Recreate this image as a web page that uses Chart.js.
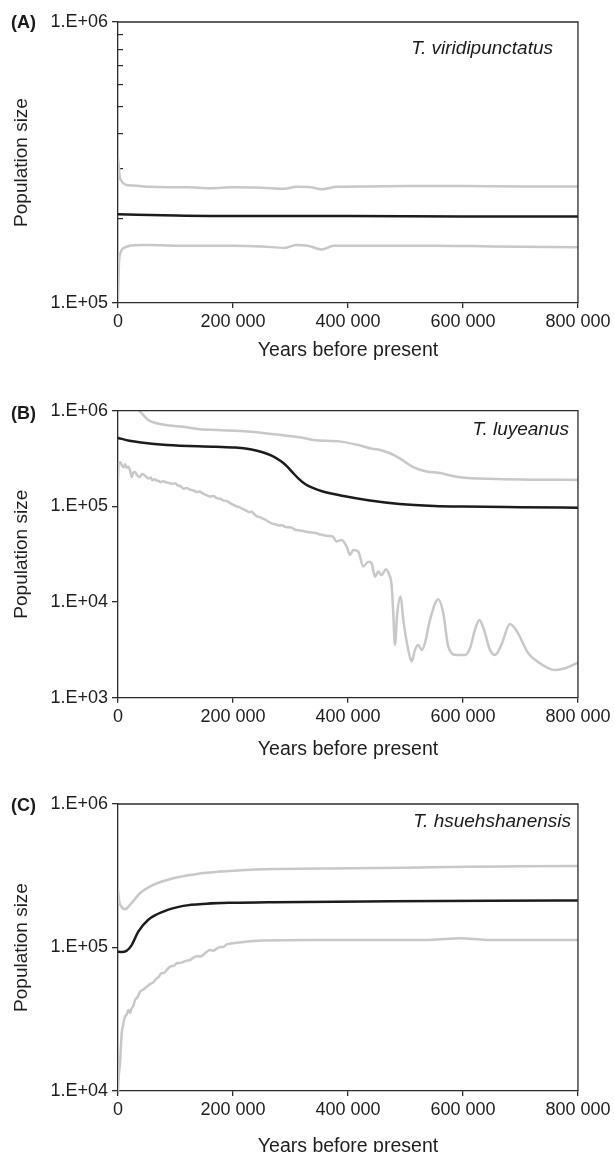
<!DOCTYPE html>
<html><head><meta charset="utf-8">
<script src="https://cdn.jsdelivr.net/npm/chart.js@4.4.1/dist/chart.umd.min.js"></script>
<style>
html,body{margin:0;padding:0;background:#fff;width:614px;height:1152px;overflow:hidden;position:relative;font-family:"Liberation Sans",Arial,sans-serif;}
canvas{position:absolute;left:0;}
.lab{position:absolute;font-size:18px;font-weight:bold;color:#1a1a1a;line-height:20px;white-space:nowrap;}
.sp{position:absolute;font-size:19px;font-style:italic;color:#1a1a1a;line-height:20px;white-space:nowrap;text-align:right;}
</style></head><body>
<canvas id="cA" width="614" height="380" style="top:0px"></canvas>
<canvas id="cB" width="614" height="390" style="top:380px"></canvas>
<canvas id="cC" width="614" height="410" style="top:770px"></canvas>
<div class="lab" style="left:11px;top:12px">(A)</div>
<div class="sp" style="right:61px;top:38px">T. viridipunctatus</div>
<div class="lab" style="left:11px;top:403px">(B)</div>
<div class="sp" style="right:45px;top:419px">T. luyeanus</div>
<div class="lab" style="left:11px;top:795px">(C)</div>
<div class="sp" style="right:43px;top:811px">T. hsuehshanensis</div>
<script>
// ---- tick values / labels ----
const xTicks = [0, 200000, 400000, 600000, 800000];
const xTickLabels = ['0', '200 000', '400 000', '600 000', '800 000'];
const yTicksA = [1e5, 1e6];
const yTickLabelsA = ['1.E+05', '1.E+06'];
const yMinorA = [2e5, 3e5, 4e5, 5e5, 6e5, 7e5, 8e5, 9e5];
const yTicksB = [1e3, 1e4, 1e5, 1e6];
const yTickLabelsB = ['1.E+03', '1.E+04', '1.E+05', '1.E+06'];
const yTicksC = [1e4, 1e5, 1e6];
const yTickLabelsC = ['1.E+04', '1.E+05', '1.E+06'];

// ---- Panel A: T. viridipunctatus ----
const aUpperX = [0, 1500, 3000, 6000, 9000, 15000, 26000, 56000, 85000, 120000, 160000, 200000, 250000, 290000, 310000, 335000, 355000, 380000, 430000, 500000, 600000, 700000, 800000];
const aUpperY = [3.27e5, 3.05e5, 2.81e5, 2.72e5, 2.67e5, 2.63e5, 2.62e5, 2.59e5, 2.58e5, 2.58e5, 2.56e5, 2.58e5, 2.57e5, 2.55e5, 2.59e5, 2.58e5, 2.54e5, 2.59e5, 2.6e5, 2.61e5, 2.61e5, 2.6e5, 2.6e5];
const aMedX = [0, 100000, 200000, 400000, 600000, 800000];
const aMedY = [2.07e5, 2.05e5, 2.04e5, 2.04e5, 2.03e5, 2.03e5];
const aLowerX = [0, 1000, 2000, 4000, 6000, 10000, 21000, 40000, 56000, 100000, 150000, 200000, 250000, 290000, 310000, 330000, 355000, 375000, 450000, 550000, 650000, 800000];
const aLowerY = [1.02e5, 1.25e5, 1.42e5, 1.5e5, 1.54e5, 1.57e5, 1.6e5, 1.61e5, 1.61e5, 1.6e5, 1.6e5, 1.6e5, 1.59e5, 1.57e5, 1.61e5, 1.6e5, 1.55e5, 1.6e5, 1.6e5, 1.6e5, 1.59e5, 1.58e5];

// ---- Panel B: T. luyeanus ----
const bUpperX = [0, 15000, 30000, 38300, 52700, 67300, 90000, 113600, 142600, 171600, 229500, 280000, 316500, 340000, 387000, 420000, 442000, 456000, 473000, 490000, 513500, 536800, 557100, 594700, 658600, 720000, 800000];
const bUpperY = [1.6e6, 1.3e6, 1.08e6, 9.8e5, 8.0e5, 7.38e5, 7.0e5, 6.8e5, 6.4e5, 6.28e5, 6.04e5, 5.6e5, 5.27e5, 4.94e5, 4.75e5, 4.35e5, 4.0e5, 3.88e5, 3.59e5, 3.18e5, 2.57e5, 2.31e5, 2.25e5, 2.01e5, 1.93e5, 1.9e5, 1.89e5];
const bMedX = [0, 20000, 40000, 85000, 170000, 204000, 230000, 250000, 268000, 283000, 294000, 304000, 314000, 326000, 340000, 355000, 390000, 435000, 490000, 550000, 600000, 700000, 800000];
const bMedY = [5.2e5, 4.85e5, 4.65e5, 4.38e5, 4.2e5, 4.12e5, 3.95e5, 3.7e5, 3.38e5, 2.98e5, 2.62e5, 2.25e5, 1.95e5, 1.7e5, 1.55e5, 1.44e5, 1.29e5, 1.16e5, 1.06e5, 1.01e5, 9.94e4, 9.8e4, 9.7e4];
const bLowerX = [0, 1100, 4000, 7000, 9700, 12500, 15400, 18000, 21000, 23800, 26500, 29500, 33000, 38000, 42000, 46700, 53000, 57000, 60000, 64000, 67000, 71000, 74000, 79000, 84000, 89000, 94000, 99000, 104000, 109000, 114000, 119000, 125000, 131000, 137000, 142000, 148000, 154000, 160000, 166000, 172000, 178000, 183000, 189000, 195000, 200000, 206000, 211000, 217000, 222000, 228000, 232000, 237000, 241000, 246000, 251000, 257000, 262000, 268000, 274000, 280000, 285000, 291000, 297000, 303000, 308000, 314000, 320000, 326000, 333000, 340000, 345000, 350000, 355000, 360000, 367000, 374000, 380000, 389000, 397700, 403400, 409200, 417900, 426600, 435300, 441100, 446900, 452700, 458500, 466000, 471800, 475900, 478800, 481700, 485700, 491600, 496200, 504900, 510700, 516500, 522300, 528100, 533900, 542600, 557100, 565800, 574500, 589000, 603500, 612200, 620900, 628400, 636500, 647000, 655700, 667200, 681700, 693300, 713500, 733900, 760000, 777400, 800000];
const bLowerY = [1.87e5, 2.78e5, 2.9e5, 2.65e5, 2.57e5, 2.75e5, 2.53e5, 2.6e5, 2.37e5, 2.02e5, 2.25e5, 2.28e5, 2.12e5, 2.02e5, 2.18e5, 2.1e5, 1.95e5, 2.0e5, 1.87e5, 1.92e5, 1.86e5, 1.84e5, 1.79e5, 1.83e5, 1.78e5, 1.76e5, 1.72e5, 1.74e5, 1.66e5, 1.62e5, 1.53e5, 1.56e5, 1.5e5, 1.47e5, 1.41e5, 1.43e5, 1.36e5, 1.31e5, 1.27e5, 1.28e5, 1.22e5, 1.2e5, 1.155e5, 1.14e5, 1.08e5, 1.04e5, 1.0e5, 9.8e4, 9.4e4, 9.1e4, 8.7e4, 8.8e4, 8.3e4, 7.9e4, 7.74e4, 7.5e4, 7.2e4, 6.9e4, 6.6e4, 6.5e4, 6.3e4, 6.35e4, 6.1e4, 6.05e4, 5.95e4, 5.7e4, 5.62e4, 5.55e4, 5.45e4, 5.35e4, 5.3e4, 5.25e4, 5.1e4, 5.05e4, 4.95e4, 4.9e4, 4.8e4, 4.3e4, 4.45e4, 3.8e4, 3.1e4, 3.5e4, 3.37e4, 2.35e4, 2.64e4, 2.54e4, 1.84e4, 2.08e4, 1.92e4, 2.2e4, 1.92e4, 1.5e4, 7.6e3, 3.56e3, 7.6e3, 1.14e4, 6.5e3, 3.16e3, 2.39e3, 3.16e3, 3.56e3, 3.16e3, 3.72e3, 6.5e3, 1.07e4, 7.6e3, 3.42e3, 2.8e3, 2.8e3, 3.29e3, 5.13e3, 6.5e3, 5.13e3, 3.16e3, 2.8e3, 3.63e3, 5.9e3, 5.0e3, 2.92e3, 2.29e3, 1.95e3, 2.03e3, 2.33e3];

// ---- Panel C: T. hsuehshanensis ----
const cUpperX = [0, 2000, 5000, 12200, 20900, 38300, 61400, 96200, 136900, 177400, 202000, 270000, 406000, 500000, 610000, 700000, 800000];
const cUpperY = [2.54e5, 2.1e5, 1.95e5, 1.85e5, 1.98e5, 2.39e5, 2.73e5, 3.04e5, 3.25e5, 3.38e5, 3.43e5, 3.52e5, 3.56e5, 3.6e5, 3.66e5, 3.68e5, 3.7e5];
const cMedX = [0, 6000, 15100, 23800, 35300, 52700, 78800, 113600, 154200, 200000, 270000, 474000, 650000, 800000];
const cMedY = [9.35e4, 9.3e4, 9.5e4, 1.04e5, 1.29e5, 1.56e5, 1.78e5, 1.95e5, 2.02e5, 2.05e5, 2.07e5, 2.1e5, 2.12e5, 2.13e5];
const cLowerX = [0, 1500, 3500, 6400, 9000, 12200, 15000, 17900, 21000, 23800, 26500, 29600, 34000, 38300, 44000, 49900, 57000, 62000, 67300, 71000, 75000, 80000, 84700, 88000, 92000, 97000, 102100, 107000, 113000, 119000, 125200, 131000, 137000, 143000, 148300, 154000, 160000, 165000, 170000, 177400, 183000, 189000, 200000, 236000, 250000, 338000, 450000, 542000, 596000, 640000, 800000];
const cLowerY = [1.0e4, 1.3e4, 1.56e4, 2.52e4, 2.9e4, 3.3e4, 3.4e4, 3.67e4, 3.5e4, 3.77e4, 3.9e4, 4.31e4, 4.5e4, 4.92e4, 5.1e4, 5.33e4, 5.6e4, 5.75e4, 6.1e4, 6.25e4, 6.6e4, 6.65e4, 6.97e4, 7.2e4, 7.4e4, 7.45e4, 7.76e4, 7.8e4, 7.9e4, 8.1e4, 8.18e4, 8.5e4, 8.7e4, 8.65e4, 8.87e4, 9.3e4, 9.6e4, 9.5e4, 9.7e4, 1.01e5, 1.01e5, 1.05e5, 1.07e5, 1.11e5, 1.12e5, 1.13e5, 1.13e5, 1.13e5, 1.16e5, 1.13e5, 1.13e5];

const GRAY = '#c8c8c8', BLACK = '#1c1c1c', AXIS = '#2b2b2b', TEXT = '#1e1e1e';
const FONT = '"Liberation Sans", Arial, sans-serif';

function pts(xs, ys) { return xs.map((x, i) => ({x: x, y: ys[i]})); }

const framePlugin = {
  id: 'frame',
  afterDatasetsDraw(chart) {
    const a = chart.chartArea, c = chart.ctx;
    c.save(); c.strokeStyle = AXIS; c.lineWidth = 1.3;
    c.beginPath(); c.moveTo(a.left, a.top); c.lineTo(a.right, a.top); c.lineTo(a.right, a.bottom); c.stroke();
    c.restore();
  }
};

function makeChart(id, p) {
  const H = p.titleY - p.bottom + 11.7;
  const scales = {
    x: {
      type: 'linear', min: 0, max: 800000,
      afterBuildTicks: s => { s.ticks = xTicks.map(v => ({value: v})); },
      afterFit: s => { s.height = H; },
      ticks: {callback: (v, i) => xTickLabels[i], font: {family: FONT, size: 18}, color: TEXT, padding: 3.5, maxRotation: 0, autoSkip: false},
      grid: {drawOnChartArea: false, drawTicks: true, tickLength: 5, color: AXIS, lineWidth: 1.3},
      border: {display: true, color: AXIS, width: 1.3},
      title: {display: true, text: 'Years before present', font: {family: FONT, size: 19.5}, color: TEXT, padding: {top: 0, bottom: 0}}
    },
    y: {
      type: 'logarithmic', position: 'left', min: p.yMin, max: p.yMax, weight: 1,
      afterBuildTicks: s => { s.ticks = p.yTicks.map(v => ({value: v})); },
      afterFit: s => { s.width = 118; },
      ticks: {callback: (v, i) => p.yLabels[i], font: {family: FONT, size: 18}, color: TEXT, padding: 4, autoSkip: false},
      grid: {drawOnChartArea: false, drawTicks: true, tickLength: 6, color: AXIS, lineWidth: 1.3},
      border: {display: true, color: AXIS, width: 1.3},
      title: {display: true, text: 'Population size', font: {family: FONT, size: 19}, color: TEXT, padding: {top: 10.5, bottom: 0}}
    }
  };
  if (p.minor) {
    scales.yMinor = {
      type: 'logarithmic', position: 'left', min: p.yMin, max: p.yMax, weight: 0,
      afterBuildTicks: s => { s.ticks = p.minor.map(v => ({value: v})); },
      afterFit: s => { s.width = 0; },
      ticks: {display: false},
      grid: {drawOnChartArea: false, drawTicks: true, tickLength: -5, color: AXIS, lineWidth: 1.2},
      border: {display: false}
    };
  }
  const datasets = p.series.map(s => ({
    data: pts(s.x, s.y), borderColor: s.c, borderWidth: 2.5, pointRadius: 0, fill: false,
    cubicInterpolationMode: 'monotone', order: s.c === BLACK ? 0 : 1
  }));
  return new Chart(document.getElementById(id), {
    type: 'line',
    data: {datasets: datasets},
    options: {
      responsive: false, animation: false, devicePixelRatio: 1,
      layout: {padding: {top: p.top, right: 36, left: 0, bottom: p.canvasH - p.bottom - H}},
      plugins: {legend: {display: false}, tooltip: {enabled: false}},
      scales: scales
    },
    plugins: [framePlugin]
  });
}

makeChart('cA', {canvasH: 380, top: 22, bottom: 303, titleY: 351, yMin: 1e5, yMax: 1e6, yTicks: yTicksA, yLabels: yTickLabelsA, minor: yMinorA,
  series: [{x: aUpperX, y: aUpperY, c: GRAY}, {x: aLowerX, y: aLowerY, c: GRAY}, {x: aMedX, y: aMedY, c: BLACK}]});
makeChart('cB', {canvasH: 390, top: 30.7, bottom: 317.7, titleY: 370, yMin: 1e3, yMax: 1e6, yTicks: yTicksB, yLabels: yTickLabelsB,
  series: [{x: bUpperX, y: bUpperY, c: GRAY}, {x: bLowerX, y: bLowerY, c: GRAY}, {x: bMedX, y: bMedY, c: BLACK}]});
makeChart('cC', {canvasH: 410, top: 34, bottom: 321, titleY: 377, yMin: 1e4, yMax: 1e6, yTicks: yTicksC, yLabels: yTickLabelsC,
  series: [{x: cUpperX, y: cUpperY, c: GRAY}, {x: cLowerX, y: cLowerY, c: GRAY}, {x: cMedX, y: cMedY, c: BLACK}]});
</script>
</body></html>
